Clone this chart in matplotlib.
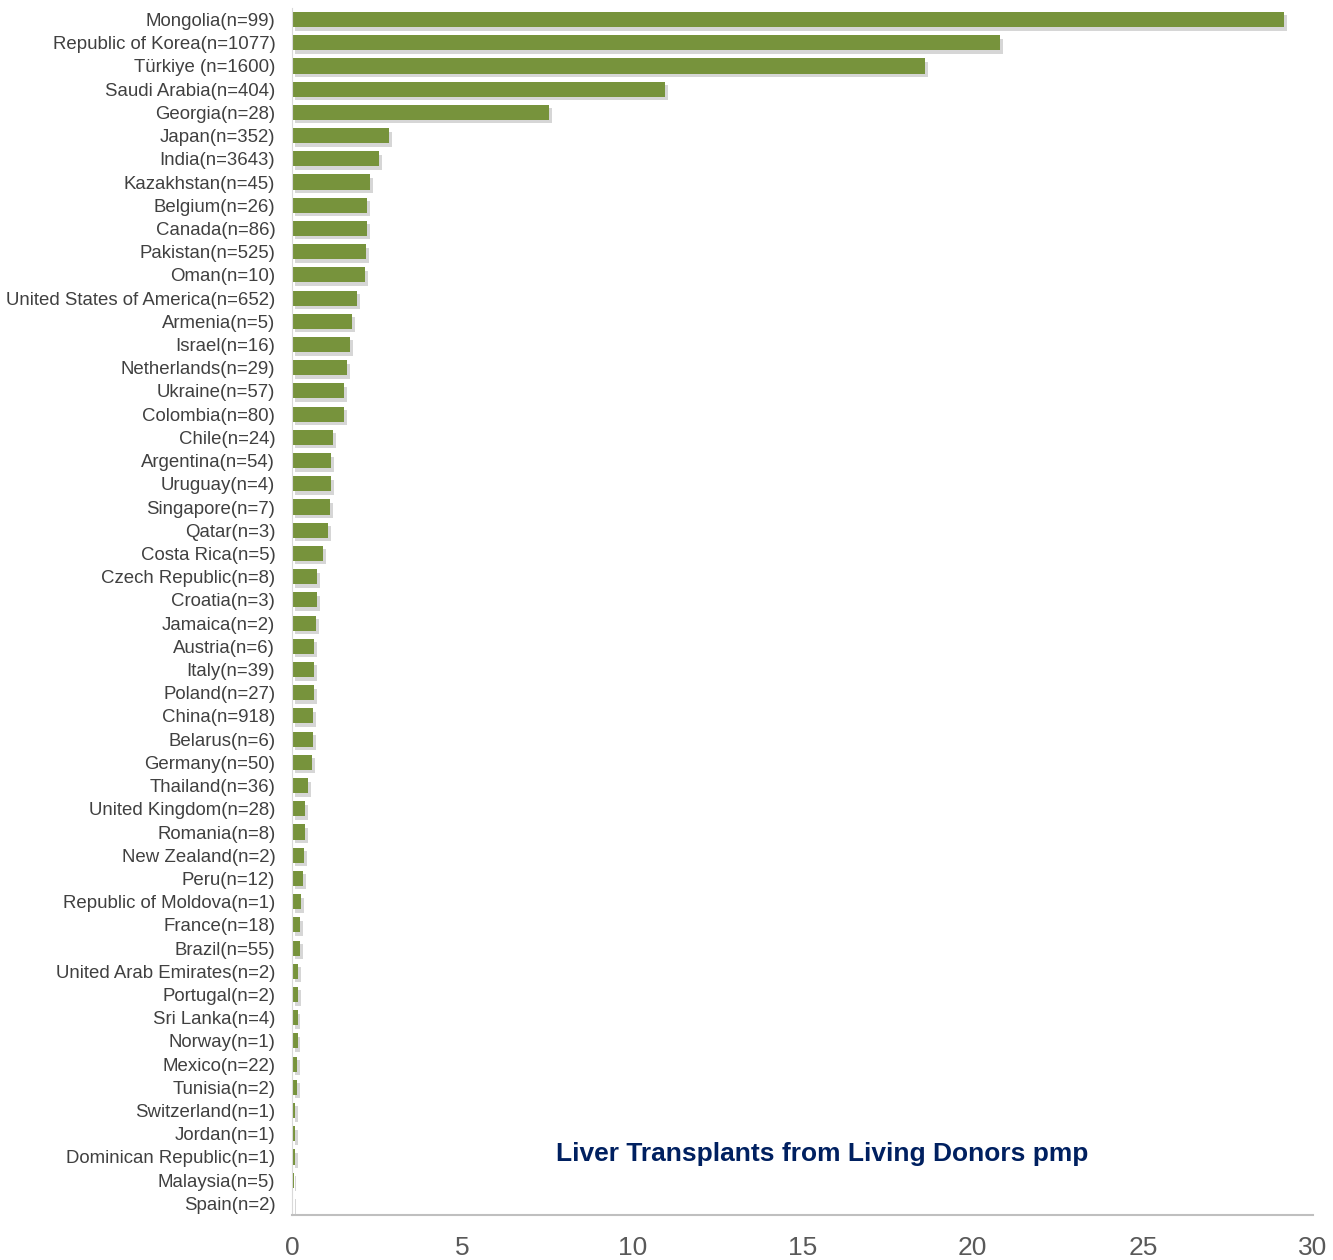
import matplotlib.pyplot as plt
import matplotlib.patheffects as pe

countries = [
    "Mongolia(n=99)", "Republic of Korea(n=1077)", "Türkiye (n=1600)", "Saudi Arabia(n=404)",
    "Georgia(n=28)", "Japan(n=352)", "India(n=3643)", "Kazakhstan(n=45)", "Belgium(n=26)",
    "Canada(n=86)", "Pakistan(n=525)", "Oman(n=10)", "United States of America(n=652)",
    "Armenia(n=5)", "Israel(n=16)", "Netherlands(n=29)", "Ukraine(n=57)", "Colombia(n=80)",
    "Chile(n=24)", "Argentina(n=54)", "Uruguay(n=4)", "Singapore(n=7)", "Qatar(n=3)",
    "Costa Rica(n=5)", "Czech Republic(n=8)", "Croatia(n=3)", "Jamaica(n=2)", "Austria(n=6)",
    "Italy(n=39)", "Poland(n=27)", "China(n=918)", "Belarus(n=6)", "Germany(n=50)",
    "Thailand(n=36)", "United Kingdom(n=28)", "Romania(n=8)", "New Zealand(n=2)", "Peru(n=12)",
    "Republic of Moldova(n=1)", "France(n=18)", "Brazil(n=55)", "United Arab Emirates(n=2)",
    "Portugal(n=2)", "Sri Lanka(n=4)", "Norway(n=1)", "Mexico(n=22)", "Tunisia(n=2)",
    "Switzerland(n=1)", "Jordan(n=1)", "Dominican Republic(n=1)", "Malaysia(n=5)", "Spain(n=2)",
]
pmp = [
    29.15, 20.8, 18.6, 10.96, 7.55, 2.85, 2.56, 2.29, 2.2, 2.2, 2.17, 2.15, 1.91,
    1.76, 1.70, 1.62, 1.53, 1.53, 1.2, 1.15, 1.15, 1.12, 1.06, 0.91, 0.73, 0.73,
    0.70, 0.65, 0.65, 0.65, 0.62, 0.62, 0.59, 0.47, 0.38, 0.38, 0.35, 0.32, 0.26,
    0.24, 0.24, 0.18, 0.18, 0.17, 0.17, 0.16, 0.15, 0.10, 0.09, 0.09, 0.05, 0.04,
]

plt.rcParams['font.family'] = ['Liberation Sans', 'DejaVu Sans']

fig = plt.figure(figsize=(13.33, 12.6), dpi=100)
ax = fig.add_axes([0.219, 0.0357, 0.766, 0.958])

ypos = range(len(countries))
bars = ax.barh(ypos, pmp, height=0.65, color="#77933C")
for b in bars:
    b.set_path_effects([
        pe.SimplePatchShadow(offset=(2, -2.5), shadow_rgbFace="#999999", alpha=0.4),
        pe.Normal(),
    ])

ax.set_yticks(list(ypos))
ax.set_yticklabels(countries, fontsize=13.4, color="#404040")
ax.set_ylim(len(countries) - 0.5, -0.5)
ax.set_xlim(0, 30)
ax.set_xticks([0, 5, 10, 15, 20, 25, 30])
ax.tick_params(axis="y", length=0, pad=12)
ax.tick_params(axis="x", length=0, pad=15, labelsize=19, labelcolor="#595959")

for s in ["top", "right"]:
    ax.spines[s].set_visible(False)
ax.spines["left"].set_color("#d9d9d9")
ax.spines["bottom"].set_color("#bfbfbf")
ax.spines["bottom"].set_linewidth(1.5)

fig.text(0.617, 0.084, "Liver Transplants from Living Donors pmp", fontsize=19,
         fontweight="bold", color="#002060", ha="center", va="center")

fig.savefig("out.png", dpi=100)
